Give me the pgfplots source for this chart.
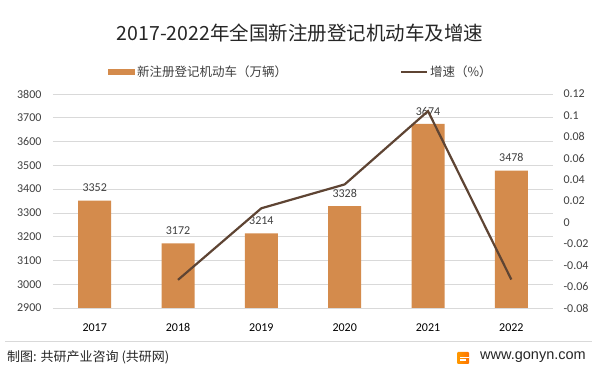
\documentclass[border=0pt]{standalone}
\usepackage{pgfplots}
\pgfplotsset{compat=1.18}
\usepackage{fontspec}
\setmainfont{Carlito}
\newfontfamily\cjk{Noto Sans CJK SC}
\newfontfamily\arialf{Liberation Sans}
\definecolor{barc}{HTML}{D48B4C}
\definecolor{linec}{HTML}{5E4433}
\definecolor{gridc}{HTML}{D9D9D9}
\definecolor{txt}{HTML}{404040}
\begin{document}
\begin{tikzpicture}
\fill[white] (0bp,0bp) rectangle (601bp,373bp);
\path[use as bounding box] (0bp,0bp) rectangle (601bp,373bp);
\begin{axis}[at={(53bp,65bp)}, anchor=south west, scale only axis, width=500bp, height=214bp,
 xmin=-0.5, xmax=5.5, ymin=2900, ymax=3800,
 ytick={2900,3000,3100,3200,3300,3400,3500,3600,3700,3800},
 xtick={0,1,2,3,4,5}, xticklabels={2017,2018,2019,2020,2021,2022},
 axis line style={draw=none}, major tick style={draw=none},
 ymajorgrids, grid style={gridc, line width=0.75bp},
 /pgf/number format/assume math mode=true,
 /pgf/number format/1000 sep={},
 ticklabel style={font=\fontsize{12bp}{14bp}\selectfont},
 yticklabel style={txt, xshift=-8bp},
 xticklabel style={black, yshift=-8bp},
 ybar, bar width=33bp,
 nodes near coords,
 nodes near coords style={font=\fontsize{12bp}{14bp}\selectfont, txt, yshift=5bp},
]
\addplot[fill=barc, draw=none] coordinates {(0,3352) (1,3172) (2,3214) (3,3328) (4,3674) (5,3478)};
\end{axis}
\begin{axis}[at={(53bp,65bp)}, anchor=south west, scale only axis, width=500bp, height=214bp,
 xmin=-0.5, xmax=5.5, ymin=-0.08, ymax=0.12,
 axis y line*=right, axis x line=none,
 ytick={-0.08,-0.06,-0.04,-0.02,0,0.02,0.04,0.06,0.08,0.1,0.12},
 yticklabels={-0.08,-0.06,-0.04,-0.02,0,0.02,0.04,0.06,0.08,0.1,0.12},
 axis line style={draw=none}, major tick style={draw=none},
 yticklabel style={txt, xshift=7bp, font=\fontsize{12bp}{14bp}\selectfont},
]
\addplot[linec, line width=2.2bp, no markers] coordinates {(1,-0.0537) (2,0.0132) (3,0.0355) (4,0.1040) (5,-0.0534)};
\end{axis}
% title
\node[font=\cjk\fontsize{19.5bp}{22bp}\selectfont, text=black!85] at (300bp,340bp) {2017-2022年全国新注册登记机动车及增速};
% legend
\fill[barc] (108bp,298bp) rectangle (135bp,304bp);
\node[anchor=west, inner sep=0, font=\cjk\fontsize{12.5bp}{14bp}\selectfont, text=txt] at (137bp,301bp) {新注册登记机动车（万辆）};
\draw[linec, line width=2.2bp] (401bp,301bp) -- (427bp,301bp);
\node[anchor=west, inner sep=0, font=\cjk\fontsize{12.5bp}{14bp}\selectfont, text=txt] at (430bp,301bp) {增速（\%）};
% footer
\draw[gridc, line width=0.6bp] (5bp,32bp) -- (592bp,32bp);
\node[anchor=west, inner sep=0, font=\cjk\fontsize{13bp}{15bp}\selectfont, text=black!85] at (7bp,16bp) {制图: 共研产业咨询 (共研网)};
\shade[left color=orange!80!yellow, right color=orange!90!red, rounded corners=1bp] (457bp,9bp) rectangle (469bp,21bp);
\fill[white] (460bp,14.5bp) rectangle (469bp,16bp);
\fill[white] (460bp,12bp) rectangle (466bp,13.5bp);
\node[anchor=west, inner sep=0, font=\arialf\fontsize{14.5bp}{16bp}\selectfont, text=black!85] at (480bp,16bp) {www.gonyn.com};
\end{tikzpicture}
\end{document}
